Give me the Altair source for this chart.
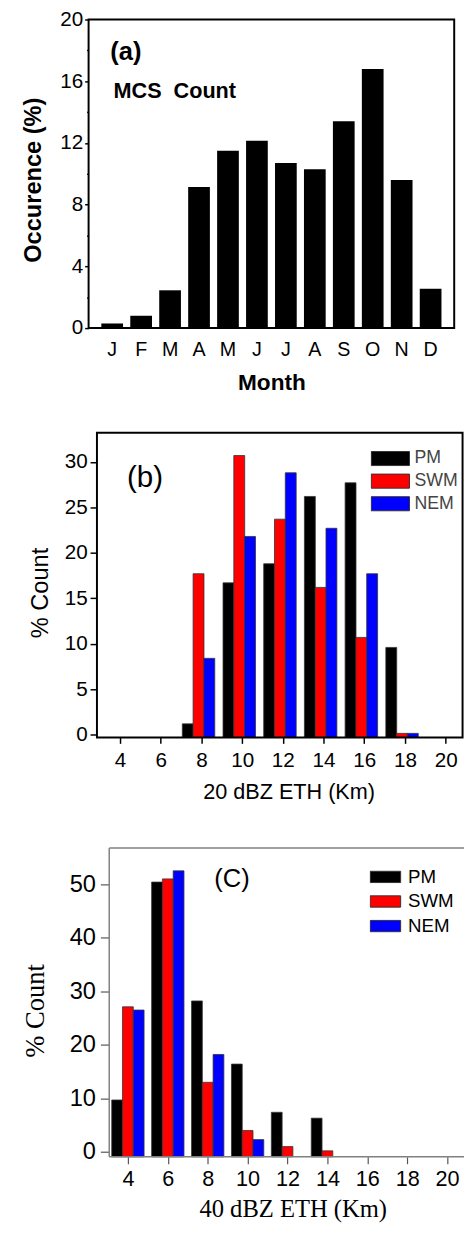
import altair as alt
import pandas as pd

SANS = "Liberation Sans"
SERIF = "Liberation Serif"

# ---------------- data ----------------
months = ["Jan", "Feb", "Mar", "Apr", "May", "Jun", "Jul", "Aug", "Sep", "Oct", "Nov", "Dec"]
mcs_occurrence = [0.3, 0.8, 2.45, 9.15, 11.5, 12.15, 10.7, 10.3, 13.4, 16.8, 9.6, 2.55]

series = ["PM", "SWM", "NEM"]
colors = ["#000000", "#ff0000", "#0000ff"]

eth20_bins = [4, 6, 8, 10, 12, 14, 16, 18, 20]
eth20_pm = [0, 0, 1.2, 16.7, 18.8, 26.2, 27.7, 9.6, 0]
eth20_swm = [0, 0, 17.7, 30.7, 23.7, 16.2, 10.7, 0.15, 0]
eth20_nem = [0, 0, 8.4, 21.8, 28.8, 22.7, 17.7, 0.15, 0]

eth40_bins = [4, 6, 8, 10, 12, 14, 16, 18, 20]
eth40_pm = [9.7, 50.4, 28.2, 16.4, 7.4, 6.3, 0, 0, 0]
eth40_swm = [27.1, 51.0, 13.0, 4.0, 1.0, 0.2, 0, 0, 0]
eth40_nem = [26.5, 52.5, 18.2, 2.3, 0, 0, 0, 0, 0]

label_a = ["(a)"]
label_a2 = ["MCS\u00a0\u00a0Count"]
label_b = ["(b)"]
label_c = ["(C)"]


def long_df(bins, lists):
    rows = []
    for s, vals in zip(series, lists):
        for b, v in zip(bins, vals):
            rows.append({"bin": b, "series": s, "value": v})
    return pd.DataFrame(rows)


def one(lbl):
    return pd.DataFrame({"t": lbl})


LEFT = 81
GAP = 106.5  # distance between stacked plot areas

# ---------------- panel (a) ----------------
W_A, H_A = 372, 314
df_a = pd.DataFrame({"month": months, "occ": mcs_occurrence})

bars_a = alt.Chart(df_a).mark_bar(color="black").encode(
    x=alt.X(
        "month:N", sort=months,
        scale=alt.Scale(paddingInner=0.25, paddingOuter=0.44),
        axis=alt.Axis(
            title="Month", labelExpr="substring(datum.label, 0, 1)", labelAngle=0,
            labelFont=SANS, labelFontSize=20, labelColor="black", labelPadding=12,
            ticks=False, domain=False,
            titleFont=SANS, titleFontSize=23, titleFontWeight="bold", titleColor="black",
            titleBaseline="alphabetic", titleY=62, titleX=186,
            minExtent=68, maxExtent=68,
        ),
    ),
    y=alt.Y(
        "occ:Q", scale=alt.Scale(domain=[0, 20], nice=False, zero=False),
        axis=alt.Axis(
            title="Occurence (%)", values=list(range(0, 21, 2)),
            labelExpr="datum.value % 4 == 0 ? datum.label : ''",
            labelFont=SANS, labelFontSize=21, labelColor="black", labelPadding=2,
            tickSize={"condition": {"test": "datum.value % 4 == 0", "value": 4}, "value": 2},
            tickColor="black", tickWidth=1.5, domain=False, grid=False,
            titleFont=SANS, titleFontSize=24, titleFontWeight="bold", titleColor="black",
            titleAngle=270, titleBaseline="alphabetic", titleAlign="center",
            titleX=-48.5, titleY=163,
            minExtent=LEFT, maxExtent=LEFT,
        ),
    ),
)

txt_a1 = alt.Chart(one(label_a)).mark_text(
    font=SANS, fontSize=26, fontWeight="bold", align="left", baseline="alphabetic", color="black"
).encode(text="t:N", x=alt.value(22), y=alt.value(41.5))

txt_a2 = alt.Chart(one(label_a2)).mark_text(
    font=SANS, fontSize=22, fontWeight="bold", align="left", baseline="alphabetic", color="black"
).encode(text="t:N", x=alt.value(25.4), y=alt.value(79.7))

panel_a = alt.layer(bars_a, txt_a1, txt_a2).properties(
    width=W_A, height=H_A, view=alt.ViewBackground(stroke="black", strokeWidth=2)
)

# ---------------- panel (b) ----------------
SH_B = 8.5
W_B, H_B = 380.5, 310
PX_B = 20.706
df_b = long_df(eth20_bins, [eth20_pm, eth20_swm, eth20_nem])

bars_b = alt.Chart(df_b).transform_filter("datum.value > 0").transform_calculate(
    x0="datum.bin + (datum.series == 'PM' ? -0.94 : datum.series == 'SWM' ? -0.41 : 0.12)"
).transform_calculate(
    x1="datum.x0 + 0.535"
).mark_bar(stroke="#333333", strokeWidth=0.8).encode(
    x=alt.X(
        "x0:Q", scale=alt.Scale(domain=[4 - 32 / PX_B, 4 - 32 / PX_B + W_B / PX_B], nice=False, zero=False),
        axis=alt.Axis(
            title="20 dBZ ETH (Km)", values=eth20_bins, format="d",
            labelFont=SANS, labelFontSize=21, labelColor="black", labelPadding=6.5,
            tickSize=6, tickColor="black", tickWidth=1.5, domain=False, grid=False,
            titleFont=SANS, titleFontSize=22, titleFontWeight="normal", titleColor="black",
            titleBaseline="alphabetic", titleY=62.5, titleX=195 + SH_B,
            minExtent=68, maxExtent=68,
        ),
    ),
    x2="x1:Q",
    y=alt.Y(
        "value:Q", scale=alt.Scale(domain=[-0.3, 33.2], nice=False, zero=False),
        axis=alt.Axis(
            title="% Count", values=[0, 5, 10, 15, 20, 25, 30], offset=-SH_B,
            labelFont=SANS, labelFontSize=21, labelColor="black", labelPadding=3,
            tickSize=7, tickColor="black", tickWidth=1.5, domain=False, grid=False,
            titleFont=SANS, titleFontSize=24, titleFontWeight="normal", titleColor="black",
            titleAngle=270, titleBaseline="alphabetic", titleAlign="center",
            titleX=-50.5, titleY=162.5,
            minExtent=LEFT - SH_B, maxExtent=LEFT - SH_B,
        ),
    ),
    y2=alt.value(H_B),
    color=alt.Color(
        "series:N", scale=alt.Scale(domain=series, range=colors),
        legend=alt.Legend(
            title=None, orient="none", legendX=278.5 + SH_B, legendY=17.2, padding=0,
            symbolType="M-1,-0.367H1V0.367H-1Z", symbolSize=1521,
            symbolStrokeColor="#333333", symbolStrokeWidth=1, symbolOpacity=1,
            clipHeight=18, rowPadding=5,
            labelFont=SANS, labelFontSize=18, labelColor="#444444", labelOffset=4.6,
        ),
    ),
)

frame_b = alt.Chart(one(label_b)).mark_rect(
    fillOpacity=0, stroke="black", strokeWidth=2
).encode(x=alt.value(SH_B), x2=alt.value(W_B), y=alt.value(0), y2=alt.value(H_B))

txt_b = alt.Chart(one(label_b)).mark_text(
    font=SANS, fontSize=30, align="left", baseline="alphabetic", color="black"
).encode(text="t:N", x=alt.value(30.5 + SH_B), y=alt.value(55.4))

panel_b = alt.layer(bars_b, frame_b, txt_b).properties(
    width=W_B, height=H_B, view=alt.ViewBackground(stroke="transparent")
)

# ---------------- panel (c) ----------------
SH_C = 21
DY_C = 5.9
W_C, H_C = 382, 320.2
PX_C = 20.3
PY_C = 5.447
df_c = long_df(eth40_bins, [eth40_pm, eth40_swm, eth40_nem])

bars_c = alt.Chart(df_c).transform_filter("datum.value > 0").transform_calculate(
    x0="datum.bin + (datum.series == 'PM' ? -0.81 : datum.series == 'SWM' ? -0.27 : 0.27)"
).transform_calculate(
    x1="datum.x0 + 0.54"
).mark_bar(stroke="#333333", strokeWidth=0.8).encode(
    x=alt.X(
        "x0:Q", scale=alt.Scale(domain=[4 - 40 / PX_C, 4 - 40 / PX_C + W_C / PX_C], nice=False, zero=False),
        axis=alt.Axis(
            title="40 dBZ ETH (Km)", values=eth40_bins, format="d",
            labelFont=SANS, labelFontSize=22, labelColor="black", labelPadding=5,
            tickSize=7, tickColor="#555555", tickWidth=1.2, domain=False, grid=False,
            titleFont=SERIF, titleFontSize=25, titleFontWeight="normal", titleColor="black",
            titleBaseline="alphabetic", titleY=61, titleX=186.7 + SH_C,
            minExtent=50, maxExtent=50,
        ),
    ),
    x2="x1:Q",
    y=alt.Y(
        "value:Q", scale=alt.Scale(domain=[-0.92, -0.92 + H_C / PY_C], nice=False, zero=False),
        axis=alt.Axis(
            title="% Count", values=[0, 10, 20, 30, 40, 50], offset=-SH_C,
            labelFont=SANS, labelFontSize=24, labelColor="black", labelPadding=5,
            tickSize=9, tickColor="#555555", tickWidth=1.2, domain=False, grid=False,
            titleFont=SERIF, titleFontSize=27, titleFontWeight="normal", titleColor="black",
            titleAngle=270, titleBaseline="alphabetic", titleAlign="center",
            titleX=-66.5, titleY=165.3 + DY_C,
            minExtent=LEFT - SH_C, maxExtent=LEFT - SH_C,
        ),
    ),
    y2=alt.value(H_C),
    color=alt.Color(
        "series:N", scale=alt.Scale(domain=series, range=colors),
        legend=alt.Legend(
            title=None, orient="none", legendX=265 + SH_C, legendY=20 + DY_C, padding=0,
            symbolType="M-1,-0.37H1V0.37H-1Z", symbolSize=961,
            symbolStrokeColor="#333333", symbolStrokeWidth=1, symbolOpacity=1,
            clipHeight=19, rowPadding=5,
            labelFont=SANS, labelFontSize=19, labelColor="black", labelOffset=7,
        ),
    ),
)

frame_c_top = alt.Chart(one(label_c)).mark_rule(
    color="#808080", strokeWidth=1.5
).encode(x=alt.value(SH_C), x2=alt.value(W_C), y=alt.value(DY_C))

frame_c_bottom = alt.Chart(one(label_c)).mark_rule(
    color="#808080", strokeWidth=1.5
).encode(x=alt.value(SH_C), x2=alt.value(W_C), y=alt.value(H_C))

frame_c_left = alt.Chart(one(label_c)).mark_rule(
    color="#808080", strokeWidth=1.5
).encode(x=alt.value(SH_C), y=alt.value(DY_C), y2=alt.value(H_C))

txt_c = alt.Chart(one(label_c)).mark_text(
    font=SANS, fontSize=26, align="left", baseline="alphabetic", color="black"
).encode(text="t:N", x=alt.value(106.8 + SH_C), y=alt.value(39.8 + DY_C))

panel_c = alt.layer(bars_c, frame_c_top, frame_c_bottom, frame_c_left, txt_c).properties(
    width=W_C, height=H_C, view=alt.ViewBackground(stroke="transparent")
)

chart = alt.vconcat(panel_a, panel_b, panel_c, spacing=GAP, bounds="flush").resolve_scale(
    color="independent"
).properties(
    padding={"left": 0, "right": 0, "top": -11, "bottom": 0}
).configure(background="white")

chart.save("out.html", embed_options={"renderer": "svg", "actions": False})
